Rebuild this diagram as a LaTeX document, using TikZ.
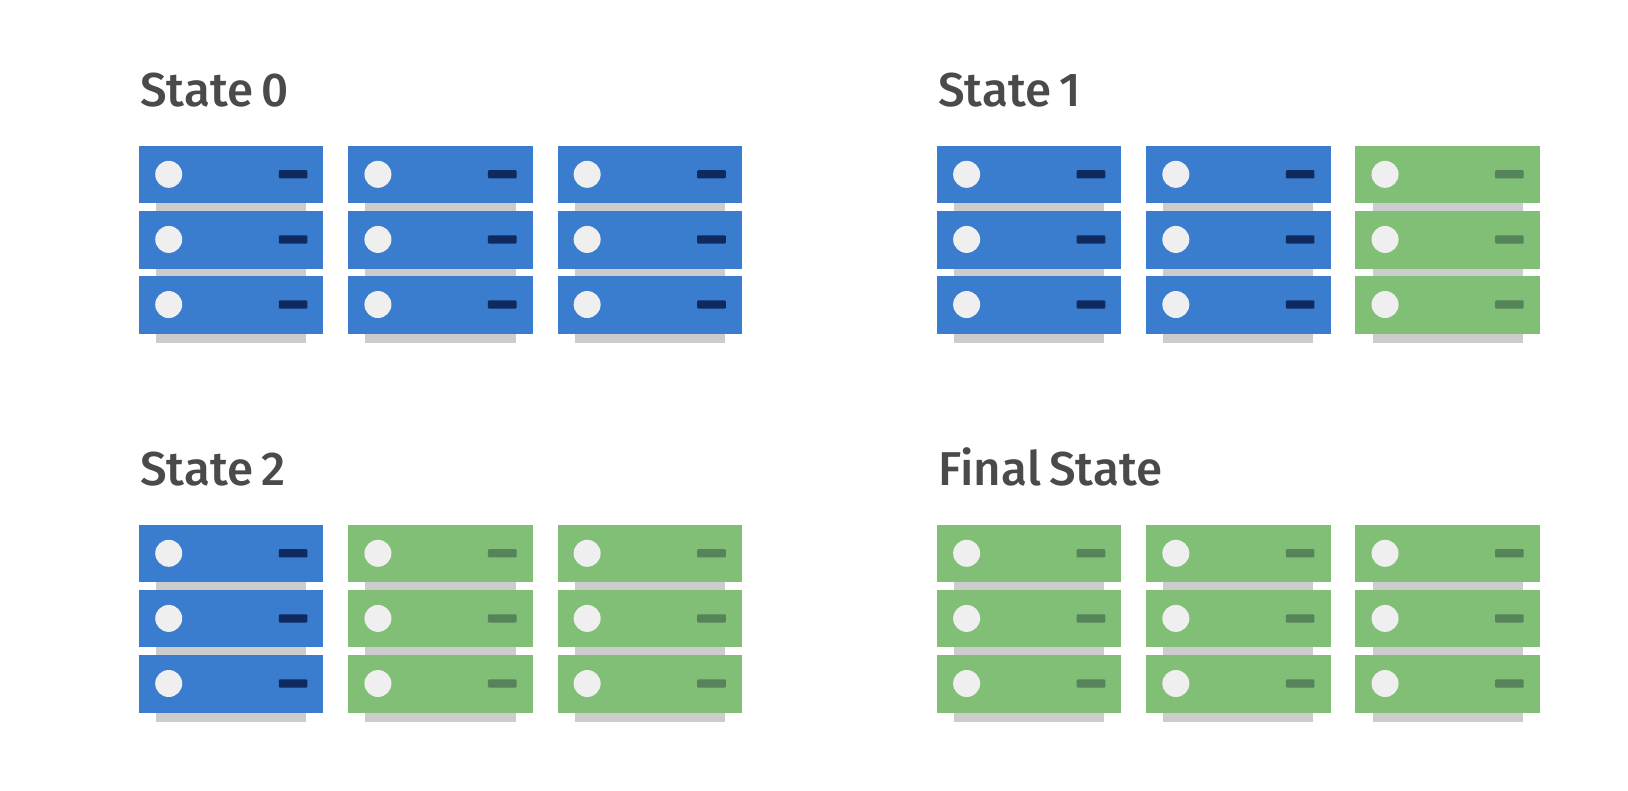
\documentclass[tikz,border=0pt]{standalone}
\usepackage{fontspec}
\setmainfont{Fira Sans Medium}[WordSpace=0.7]
\definecolor{bluebox}{HTML}{3A7CCE}
\definecolor{greenbox}{HTML}{80BF75}
\definecolor{bluedash}{HTML}{0F2A5F}
\definecolor{greendash}{HTML}{55835A}
\definecolor{holecol}{HTML}{EFEFEF}
\definecolor{shadowcol}{HTML}{CCCCCC}
\definecolor{titlecol}{HTML}{4A4A4A}
\tikzset{
  x=1.03827pt,y=-1.03827pt,
  statetitle/.style={anchor=base west,inner sep=0pt,text=titlecol,font=\fontsize{47.5}{52}\selectfont},
  pics/rackstack/.style n args={2}{code={
    \foreach \ry in {0,62.7,125.4}{
      \fill[shadowcol] (16.5,55+\ry) rectangle (161,64.5+\ry);
      \fill[#1] (0,\ry) rectangle (177.5,55.5+\ry);
      \fill[holecol] (28.5,27.5+\ry) circle[radius=13];
      \fill[#2,rounded corners=1pt] (134.5,23.5+\ry) rectangle (162,31.5+\ry);
    }
  }},
}
\begin{document}
\begin{tikzpicture}
\useasboundingbox (0,0) rectangle (1568,760.9);
\fill[white] (0,0) rectangle (1568,760.9);
\node[statetitle] (t0) at (135,103) {State 0};
\node[statetitle] (t1) at (903.5,103) {State 1};
\node[statetitle] (t2) at (135,468) {State 2};
\node[statetitle] (t3) at (904,468) {Final State};
\pic at (134,140.4) {rackstack={bluebox}{bluedash}};
\pic at (335.5,140.4) {rackstack={bluebox}{bluedash}};
\pic at (537,140.4) {rackstack={bluebox}{bluedash}};
\pic at (902.5,140.4) {rackstack={bluebox}{bluedash}};
\pic at (1104,140.4) {rackstack={bluebox}{bluedash}};
\pic at (1305.5,140.4) {rackstack={greenbox}{greendash}};
\pic at (134,505.4) {rackstack={bluebox}{bluedash}};
\pic at (335.5,505.4) {rackstack={greenbox}{greendash}};
\pic at (537,505.4) {rackstack={greenbox}{greendash}};
\pic at (902.5,505.4) {rackstack={greenbox}{greendash}};
\pic at (1104,505.4) {rackstack={greenbox}{greendash}};
\pic at (1305.5,505.4) {rackstack={greenbox}{greendash}};
\end{tikzpicture}
\end{document}
